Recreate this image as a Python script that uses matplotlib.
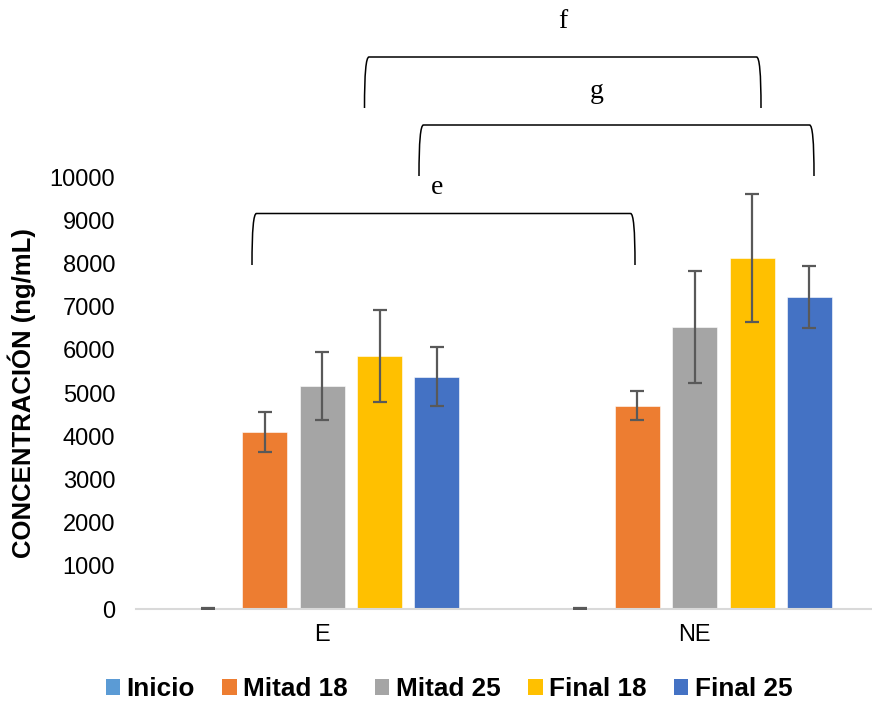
import matplotlib
matplotlib.use("Agg")
import matplotlib.pyplot as plt
import numpy as np
from matplotlib.path import Path
from matplotlib.patches import PathPatch, Patch
from matplotlib.transforms import ScaledTranslation

# Data
categories = ["E", "NE"]
series_names = ["Inicio", "Mitad 18", "Mitad 25", "Final 18", "Final 25"]
inicio = [10, 10]
mitad_18 = [4100, 4710]
mitad_25 = [5170, 6530]
final_18 = [5860, 8130]
final_25 = [5380, 7220]
inicio_err = [8, 8]
mitad_18_err = [460, 345]
mitad_25_err = [790, 1290]
final_18_err = [1060, 1480]
final_25_err = [680, 720]
yticks = [0, 1000, 2000, 3000, 4000, 5000, 6000, 7000, 8000, 9000, 10000]

values = [inicio, mitad_18, mitad_25, final_18, final_25]
errors = [inicio_err, mitad_18_err, mitad_25_err, final_18_err, final_25_err]
colors = ["#5B9BD5", "#ED7D31", "#A5A5A5", "#FFC000", "#4472C4"]

W, H = 872, 705
fig = plt.figure(figsize=(W / 100, H / 100), dpi=100)
ax = fig.add_axes([136 / W, 1 - 609 / H, (881 - 136) / W, (609 - 177) / H])

x = np.arange(len(categories))
step = 0.1538
width = 0.1208
for i, (vals, errs, c) in enumerate(zip(values, errors, colors)):
    ax.bar(x + (i - 2) * step, vals, width, color=c, edgecolor="white",
           linewidth=0.4, zorder=2)
    ax.errorbar(x + (i - 2) * step, vals, yerr=errs, fmt="none",
                ecolor="#595959", elinewidth=1.6, capsize=4.7, capthick=1.6,
                zorder=3)

ax.set_xlim(-0.5, 1.5)
ax.set_ylim(0, 10000)
ax.set_yticks(yticks)
ax.set_yticklabels([str(t) for t in yticks], fontsize=17,
                   family="Liberation Sans")
ax.set_xticks(x)
ax.set_xticklabels(categories, fontsize=17, family="Liberation Sans")
for lbl in ax.get_xticklabels():
    lbl.set_transform(lbl.get_transform() +
                      ScaledTranslation(-6 / 100, 0, fig.dpi_scale_trans))
ax.tick_params(axis="both", length=0)
ax.tick_params(axis="y", pad=15)
ax.tick_params(axis="x", pad=11)
for s in ["top", "right", "left"]:
    ax.spines[s].set_visible(False)
ax.spines["bottom"].set_color("#D9D9D9")
ax.spines["bottom"].set_linewidth(1.5)
ax.set_ylabel("CONCENTRACIÓN (ng/mL)", fontsize=18.5, fontweight="bold",
              family="Liberation Sans", labelpad=10)


def px(xp, yp):
    return (xp / W, 1 - yp / H)


def bracket(xl, xr, yt, yb):
    pts = [(xl, yb), (xl, yt + 16), (xl + 1.5, yt), (xl + 4.5, yt),
           (xr - 4.5, yt),
           (xr - 1.5, yt), (xr, yt + 16), (xr, yb)]
    codes = [Path.MOVETO, Path.CURVE4, Path.CURVE4, Path.CURVE4,
             Path.LINETO,
             Path.CURVE4, Path.CURVE4, Path.CURVE4]
    path = Path([px(a, b) for a, b in pts], codes)
    fig.patches.append(PathPatch(path, transform=fig.transFigure,
                                 facecolor="none", edgecolor="black",
                                 linewidth=1.1))


# Significance brackets
bracket(252, 635, 213.5, 265)
bracket(364.5, 761, 57, 108)
bracket(419, 814, 125, 176)
for letter, (lx, ly) in {"f": (563, 22), "g": (597, 92), "e": (437, 188)}.items():
    fig.text(*px(lx, ly), letter, fontsize=20, family="Liberation Serif",
             ha="center", va="center")

handles = [Patch(facecolor=c, edgecolor="none") for c in colors]
leg = fig.legend(handles, series_names, loc="center",
                 bbox_to_anchor=px(449, 689), ncol=5, frameon=False,
                 prop={"family": "Liberation Sans", "weight": "bold",
                       "size": 18.8},
                 handlelength=0.55, handleheight=0.55, handletextpad=0.25,
                 columnspacing=1.05)

fig.savefig("out.png", dpi=100)
